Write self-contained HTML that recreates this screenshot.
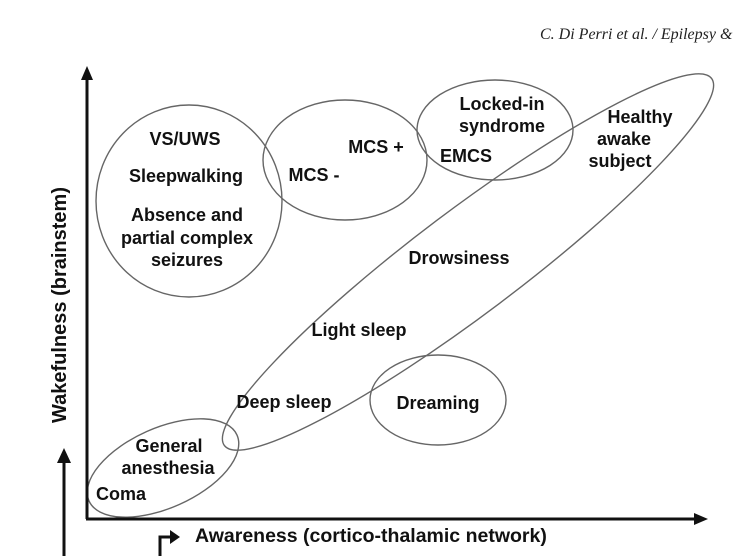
<!DOCTYPE html>
<html><head><style>
body{margin:0;background:#fff;}
svg{display:block;}
text{font-family:"Liberation Sans",sans-serif;font-weight:bold;font-size:18px;fill:#111;}
</style></head><body>
<svg width="748" height="556" viewBox="0 0 748 556">
<text x="540" y="39" style="font-family:'Liberation Serif',serif;font-weight:normal;font-style:italic;font-size:16px;fill:#222">C. Di Perri et al. / Epilepsy &amp;</text>
<g fill="none" stroke="#666" stroke-width="1.4">
<ellipse cx="189" cy="201" rx="93" ry="96"/>
<ellipse cx="345" cy="160" rx="82" ry="60"/>
<ellipse cx="495" cy="130" rx="78" ry="50"/>
<ellipse cx="468" cy="262" rx="305" ry="52" transform="rotate(-37 468 262)"/>
<ellipse cx="438" cy="400" rx="68" ry="45"/>
<ellipse cx="163" cy="468" rx="81" ry="40" transform="rotate(-24 163 468)"/>
</g>
<g stroke="#111" stroke-width="3" fill="none">
<line x1="87" y1="74" x2="87" y2="519"/>
<line x1="86" y1="519" x2="700" y2="519"/>
<line x1="64" y1="458" x2="64" y2="556"/>
<polyline points="160,556 160,537 172,537"/>
</g>
<g fill="#111">
<polygon points="87,66 81,80 93,80"/>
<polygon points="708,519 694,513 694,525"/>
<polygon points="64,448 57,463 71,463"/>
<polygon points="180,537 170,530 170,544"/>
</g>
<text x="66" y="305" text-anchor="middle" transform="rotate(-90 66 305)" style="font-size:20px">Wakefulness (brainstem)</text>
<text x="195" y="542" style="font-size:19.5px">Awareness (cortico-thalamic network)</text>
<text x="185" y="145" text-anchor="middle">VS/UWS</text>
<text x="186" y="182" text-anchor="middle">Sleepwalking</text>
<text x="187" y="221" text-anchor="middle">Absence and</text>
<text x="187" y="244" text-anchor="middle">partial complex</text>
<text x="187" y="266" text-anchor="middle">seizures</text>
<text x="376" y="153" text-anchor="middle">MCS +</text>
<text x="314" y="181" text-anchor="middle">MCS -</text>
<text x="502" y="110" text-anchor="middle">Locked-in</text>
<text x="502" y="132" text-anchor="middle">syndrome</text>
<text x="466" y="162" text-anchor="middle">EMCS</text>
<text x="640" y="123" text-anchor="middle">Healthy</text>
<text x="624" y="145" text-anchor="middle">awake</text>
<text x="620" y="167" text-anchor="middle">subject</text>
<text x="459" y="264" text-anchor="middle">Drowsiness</text>
<text x="359" y="336" text-anchor="middle">Light sleep</text>
<text x="284" y="408" text-anchor="middle">Deep sleep</text>
<text x="438" y="409" text-anchor="middle">Dreaming</text>
<text x="169" y="452" text-anchor="middle">General</text>
<text x="168" y="474" text-anchor="middle">anesthesia</text>
<text x="121" y="500" text-anchor="middle">Coma</text>
</svg>
</body></html>
